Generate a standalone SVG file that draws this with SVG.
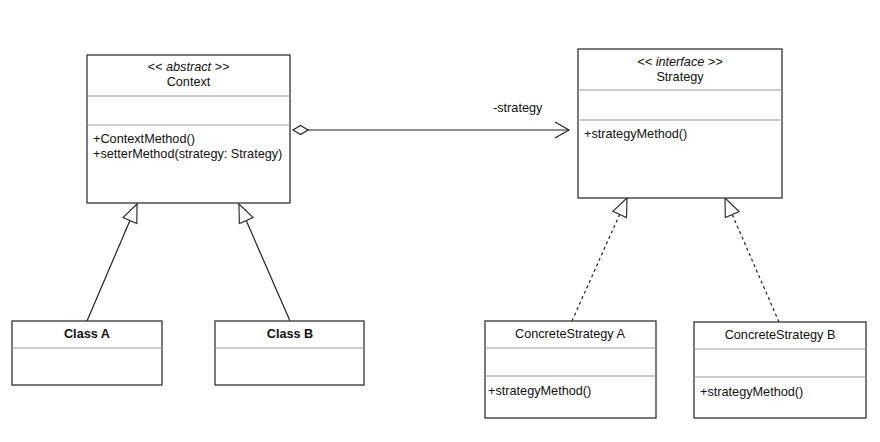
<svg xmlns="http://www.w3.org/2000/svg" width="880" height="442" viewBox="0 0 880 442">
<style>
.box{fill:#fff;stroke:#333;stroke-width:1.3}
.div{stroke:#999;stroke-width:1.2}
.t{font-family:"Liberation Sans",Arial,sans-serif;font-size:12.7px;fill:#111}
.c{text-anchor:middle}
.b{font-weight:bold}
.i{font-style:italic}
.ln{stroke:#222;stroke-width:1.2;fill:none}
.dash{stroke-dasharray:3,3}
</style>
<defs>
<marker id="tri" markerUnits="userSpaceOnUse" markerWidth="20" markerHeight="18" viewBox="0 0 20 18" refX="19" refY="9" orient="auto">
<path d="M19,9 L1,1.5 L1,16.5 Z" fill="#fff" stroke="#333" stroke-width="1.2"/>
</marker>
<marker id="open" markerUnits="userSpaceOnUse" markerWidth="18" markerHeight="20" viewBox="0 0 18 20" refX="16" refY="10" orient="auto">
<path d="M2,2 L16,10 L2,18" fill="none" stroke="#222" stroke-width="1.2"/>
</marker>
<marker id="dia" markerUnits="userSpaceOnUse" markerWidth="18" markerHeight="12" viewBox="0 0 18 12" refX="1" refY="6" orient="auto">
<path d="M1,6 L8.5,1.5 L16,6 L8.5,10.5 Z" fill="#fff" stroke="#222" stroke-width="1.2"/>
</marker>
</defs>
<rect width="880" height="442" fill="#fff"/>
<g id="connectors">
<line class="ln" x1="293" y1="130" x2="569" y2="130" marker-start="url(#dia)" marker-end="url(#open)"/>
<text class="t" x="493" y="112">-strategy</text>
<line class="ln" x1="87" y1="321" x2="137" y2="204" marker-end="url(#tri)"/>
<line class="ln" x1="290" y1="321" x2="239" y2="204" marker-end="url(#tri)"/>
<line class="ln dash" x1="572" y1="321" x2="627" y2="198" marker-end="url(#tri)"/>
<line class="ln dash" x1="779" y1="322" x2="725" y2="198" marker-end="url(#tri)"/>
</g>
<g id="context">
<rect class="box" x="87" y="55" width="203" height="148"/>
<line class="div" x1="87" y1="96" x2="290" y2="96"/>
<line class="div" x1="87" y1="125" x2="290" y2="125"/>
<text class="t c i" x="188.5" y="71">&lt;&lt; abstract &gt;&gt;</text>
<text class="t c" x="188.5" y="86">Context</text>
<text class="t" x="93" y="143">+ContextMethod()</text>
<text class="t" x="93" y="158">+setterMethod(strategy: Strategy)</text>
</g>
<g id="strategy">
<rect class="box" x="578" y="49" width="204" height="149"/>
<line class="div" x1="578" y1="90" x2="782" y2="90"/>
<line class="div" x1="578" y1="120" x2="782" y2="120"/>
<text class="t c i" x="680" y="66">&lt;&lt; interface &gt;&gt;</text>
<text class="t c" x="680" y="81">Strategy</text>
<text class="t" x="584" y="138">+strategyMethod()</text>
</g>
<g id="classA">
<rect class="box" x="12" y="321" width="150" height="64"/>
<line class="div" x1="12" y1="348" x2="162" y2="348"/>
<text class="t c b" x="87" y="338">Class A</text>
</g>
<g id="classB">
<rect class="box" x="215" y="321" width="149" height="64"/>
<line class="div" x1="215" y1="348" x2="364" y2="348"/>
<text class="t c b" x="290" y="338">Class B</text>
</g>
<g id="concreteA">
<rect class="box" x="485" y="321" width="171" height="97"/>
<line class="div" x1="485" y1="348" x2="656" y2="348"/>
<line class="div" x1="485" y1="376" x2="656" y2="376"/>
<text class="t c" x="570" y="338">ConcreteStrategy A</text>
<text class="t" x="488" y="395">+strategyMethod()</text>
</g>
<g id="concreteB">
<rect class="box" x="694" y="322" width="172" height="96"/>
<line class="div" x1="694" y1="349" x2="866" y2="349"/>
<line class="div" x1="694" y1="377" x2="866" y2="377"/>
<text class="t c" x="780" y="339">ConcreteStrategy B</text>
<text class="t" x="700" y="396">+strategyMethod()</text>
</g>
</svg>
